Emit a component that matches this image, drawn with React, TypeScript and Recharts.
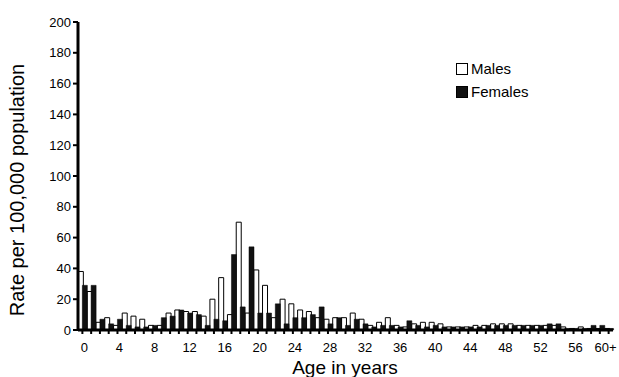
import { BarChart, Bar, XAxis, YAxis } from 'recharts';

const ages = [
  '0', '1', '2', '3', '4', '5', '6', '7', '8', '9',
  '10', '11', '12', '13', '14', '15', '16', '17', '18', '19',
  '20', '21', '22', '23', '24', '25', '26', '27', '28', '29',
  '30', '31', '32', '33', '34', '35', '36', '37', '38', '39',
  '40', '41', '42', '43', '44', '45', '46', '47', '48', '49',
  '50', '51', '52', '53', '54', '55', '56', '57', '58', '59', '60+',
];

const males = [
  38, 25, 5, 8, 3, 11, 9, 7, 3, 3,
  11, 13, 12, 12, 9, 20, 34, 10, 70, 11,
  39, 29, 8, 20, 17, 13, 12, 8, 7, 8,
  8, 11, 7, 3, 5, 8, 3, 2, 4, 5,
  5, 4, 2, 2, 2, 3, 3, 4, 4, 4,
  3, 3, 3, 3, 3, 2, 1, 2, 1, 1, 1,
];

const females = [
  29, 29, 7, 4, 7, 3, 2, 2, 3, 8,
  9, 13, 11, 10, 3, 7, 6, 49, 15, 54,
  11, 11, 17, 4, 8, 8, 10, 15, 4, 8,
  3, 7, 4, 2, 3, 3, 2, 6, 3, 2,
  3, 2, 2, 2, 2, 2, 3, 3, 3, 3,
  3, 3, 3, 4, 4, 1, 1, 1, 3, 3, 1,
];

const labelledAges = ['0', '4', '8', '12', '16', '20', '24', '28', '32', '36', '40', '44', '48', '52', '56', '60+'];
const yTicks = [0, 20, 40, 60, 80, 100, 120, 140, 160, 180, 200];

const data = ages.map((age, i) => ({ age, males: males[i], females: females[i] }));

const FONT = '"Liberation Sans", Arial, sans-serif';

// only every fourth age gets a label, but every category keeps its tick mark
const AgeTick = (props: any) => {
  const { x, y, payload } = props;
  if (!labelledAges.includes(payload.value)) return null;
  const last = payload.value === '60+';
  return (
    <text x={last ? x - 3 : x + 2} y={y + 16} textAnchor="middle" fontSize={13} fill="#000" fontFamily={FONT}>
      {payload.value}
    </text>
  );
};

export default function App() {
  return (
    <div style={{ position: 'absolute', left: 0, top: 0, width: 619, height: 377, background: '#fff' }}>
      <BarChart
        width={619}
        height={377}
        data={data}
        margin={{ top: 22, right: 6, left: 28, bottom: 17 }}
        barCategoryGap="4%"
        barGap={-1}
      >
        <XAxis
          dataKey="age"
          interval={0}
          tick={<AgeTick />}
          tickLine={{ stroke: '#000', strokeWidth: 2 }}
          tickSize={4}
          axisLine={{ stroke: '#000', strokeWidth: 3 }}
          height={30}
          label={{
            content: () => (
              <text x={345} y={374} textAnchor="middle" fontSize={19} fill="#000" fontFamily={FONT}>
                Age in years
              </text>
            ),
          }}
        />
        <YAxis
          domain={[0, 200]}
          ticks={yTicks}
          interval={0}
          width={50}
          tick={{ fontSize: 13, fill: '#000', fontFamily: FONT }}
          tickLine={{ stroke: '#000', strokeWidth: 2 }}
          tickSize={5}
          axisLine={{ stroke: '#000', strokeWidth: 3 }}
          label={{
            content: () => (
              <text
                x={24}
                y={190}
                transform="rotate(-90 24 190)"
                textAnchor="middle"
                fontSize={20}
                fill="#000"
                fontFamily={FONT}
              >
                Rate per 100,000 population
              </text>
            ),
          }}
        />
        <Bar dataKey="males" name="Males" fill="#fff" stroke="#000" strokeWidth={1} isAnimationActive={false} />
        <Bar dataKey="females" name="Females" fill="#111" stroke="#000" strokeWidth={0.5} isAnimationActive={false} />
      </BarChart>
      <div
        style={{
          position: 'absolute',
          left: 456,
          top: 57,
          fontFamily: FONT,
          fontSize: 15,
          color: '#000',
          lineHeight: '23px',
        }}
      >
        <div style={{ display: 'flex', alignItems: 'center' }}>
          <span style={{ width: 10, height: 10, border: '1.5px solid #000', background: '#fff', marginRight: 3 }} />
          Males
        </div>
        <div style={{ display: 'flex', alignItems: 'center' }}>
          <span style={{ width: 10, height: 10, border: '1.5px solid #000', background: '#111', marginRight: 3 }} />
          Females
        </div>
      </div>
    </div>
  );
}
